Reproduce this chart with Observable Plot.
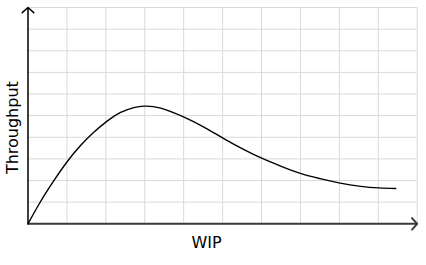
<!DOCTYPE html>
<html><head><meta charset="utf-8">
<script src="https://cdn.jsdelivr.net/npm/d3@7"></script>
<script src="https://cdn.jsdelivr.net/npm/@observablehq/plot@0.6"></script>
<style>body{margin:0;background:#fff}</style>
</head><body><div id="chart"></div>
<script>
const wip = [0, 0.32, 0.66, 1.01, 1.35, 1.69, 2.04, 2.38, 2.72, 2.98, 3.41, 4.01, 4.52, 5.03, 5.55, 6.02, 6.49, 7.00, 7.52, 7.99, 8.55, 9.02, 9.45];
const throughput = [0, 1.02, 1.98, 2.88, 3.62, 4.23, 4.76, 5.15, 5.37, 5.44, 5.35, 4.93, 4.47, 3.94, 3.43, 3.02, 2.67, 2.33, 2.08, 1.89, 1.73, 1.66, 1.63];
const gridXValues = [1, 2, 3, 4, 5, 6, 7, 8, 9, 10];
const gridYValues = [1, 2, 3, 4, 5, 6, 7, 8, 9, 10];
const xDomain = [0, 10];
const yDomain = [0, 10];
const xLabel = "WIP";
const yLabel = "Throughput";

const curve = wip.map((x, i) => ({x, y: throughput[i]}));

const chart = Plot.plot({
  width: 426,
  height: 265,
  marginLeft: 27.5,
  marginRight: 9.3,
  marginTop: 7,
  marginBottom: 41.7,
  style: {fontFamily: "DejaVu Sans", fontSize: "16px", background: "white", color: "black"},
  x: {domain: xDomain, axis: null},
  y: {domain: yDomain, axis: null},
  marks: [
    Plot.ruleX(gridXValues, {stroke: "#d9d9d9", strokeWidth: 1, strokeOpacity: 1}),
    Plot.ruleY(gridYValues, {stroke: "#d9d9d9", strokeWidth: 1, strokeOpacity: 1}),
    Plot.line(curve, {x: "x", y: "y", curve: "natural", stroke: "black", strokeWidth: 1.4}),
    Plot.arrow([{x1: xDomain[0], y1: yDomain[0], x2: xDomain[1], y2: yDomain[0]}],
      {x1: "x1", y1: "y1", x2: "x2", y2: "y2", stroke: "#3a3a3a", strokeWidth: 2, headAngle: 96, headLength: 5.8}),
    Plot.arrow([{x1: xDomain[0], y1: yDomain[0], x2: xDomain[0], y2: yDomain[1]}],
      {x1: "x1", y1: "y1", x2: "x2", y2: "y2", stroke: "black", strokeWidth: 1.5, headAngle: 96, headLength: 7.7}),
    Plot.text([xLabel], {text: d => d, frameAnchor: "bottom", textAnchor: "middle", lineAnchor: "middle", dx: -16, dy: 19.2, fontSize: 16, fill: "black"}),
    Plot.text([yLabel], {text: d => d, frameAnchor: "left", textAnchor: "middle", lineAnchor: "middle", rotate: -90, dx: -14.9, dy: 12, fontSize: 16, fill: "black"})
  ]
});
document.getElementById("chart").appendChild(chart);
</script>
</body></html>
